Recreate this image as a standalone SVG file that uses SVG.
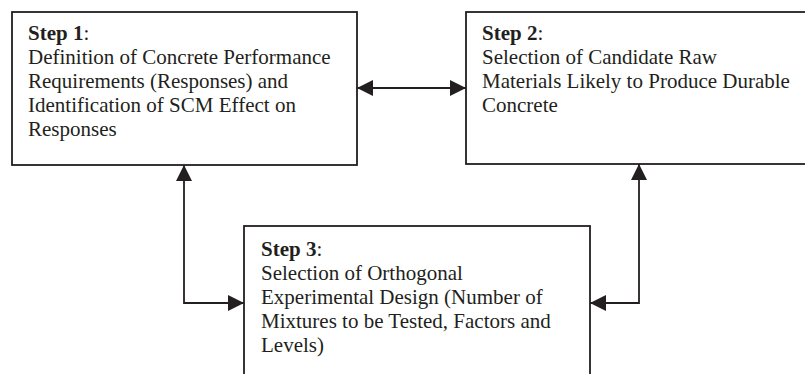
<svg xmlns="http://www.w3.org/2000/svg" width="805" height="374" viewBox="0 0 805 374">
<style>
.box{fill:#fff;stroke:#231f20;stroke-width:1.8}
.t{font-family:"Liberation Serif","Times New Roman",serif;font-size:21px;fill:#231f20}
.b{font-weight:bold}
.c{fill:none;stroke:#231f20;stroke-width:1.8}
</style>
<defs>
<marker id="ah" viewBox="0 0 16 16" refX="16" refY="8" markerWidth="16" markerHeight="16" markerUnits="userSpaceOnUse" orient="auto-start-reverse">
<path d="M0,0 L16,8 L0,16 Z" fill="#231f20"/>
</marker>
</defs>
<rect x="0" y="0" width="805" height="374" fill="#fff"/>
<g id="step1">
<rect class="box" x="12" y="12" width="345" height="153"/>
<text class="t" x="28" y="40"><tspan class="b">Step 1</tspan>:</text>
<text class="t" x="28" y="64">Definition of Concrete Performance</text>
<text class="t" x="28" y="88">Requirements (Responses) and</text>
<text class="t" x="28" y="112">Identification of SCM Effect on</text>
<text class="t" x="28" y="136">Responses</text>
</g>
<g id="step2">
<rect class="box" x="466" y="12" width="350" height="152"/>
<text class="t" x="482" y="40"><tspan class="b">Step 2</tspan>:</text>
<text class="t" x="482" y="64">Selection of Candidate Raw</text>
<text class="t" x="482" y="88">Materials Likely to Produce Durable</text>
<text class="t" x="482" y="112">Concrete</text>
</g>
<g id="step3">
<rect class="box" x="244" y="226" width="346" height="160"/>
<text class="t" x="261" y="256"><tspan class="b">Step 3</tspan>:</text>
<text class="t" x="261" y="280">Selection of Orthogonal</text>
<text class="t" x="261" y="304">Experimental Design (Number of</text>
<text class="t" x="261" y="328">Mixtures to be Tested, Factors and</text>
<text class="t" x="261" y="352">Levels)</text>
</g>
<g id="connectors">
<path class="c" d="M357,88 L466,88" marker-start="url(#ah)" marker-end="url(#ah)"/>
<path class="c" d="M184,165 L184,303 L244,303" marker-start="url(#ah)" marker-end="url(#ah)"/>
<path class="c" d="M639,164 L639,303 L590,303" marker-start="url(#ah)" marker-end="url(#ah)"/>
</g>
</svg>
